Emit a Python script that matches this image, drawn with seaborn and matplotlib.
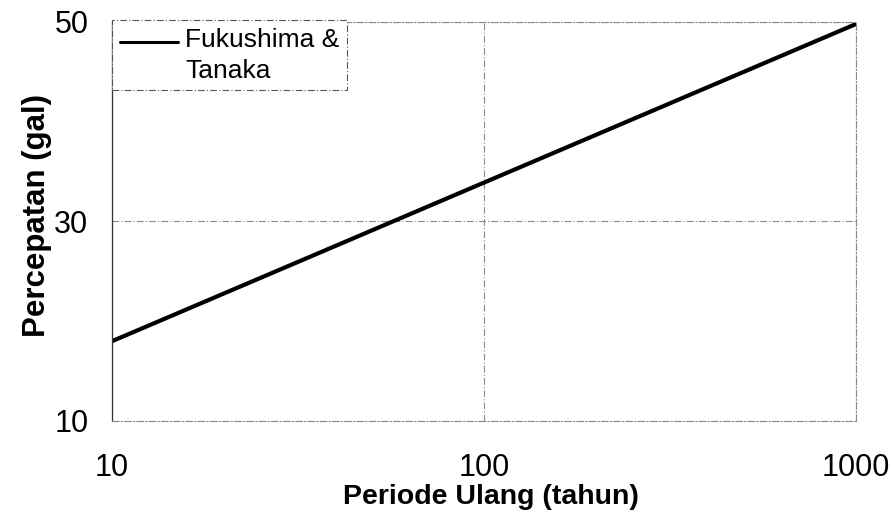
import matplotlib
matplotlib.use("Agg")
import matplotlib.pyplot as plt
from matplotlib.legend_handler import HandlerLine2D
from matplotlib.lines import Line2D
import numpy as np
import seaborn as sns
import pandas as pd

# Return period (years) and peak ground acceleration (gal)
periode = [10, 100, 1000]
percepatan = [18.0, 33.9, 49.8]
series_name = "Fukushima &\nTanaka"

x_ticks = [10, 100, 1000]
y_ticks = [10, 30, 50]

sns.set_theme(style="white")
plt.rcParams["font.family"] = ["Liberation Sans", "DejaVu Sans"]
plt.rcParams["text.color"] = "black"
plt.rcParams["axes.labelcolor"] = "black"

GRID_DASH = (0, (6, 2, 1, 2))


class FirstLineHandler(HandlerLine2D):
    """Legend line drawn level with the first line of a two-line label."""

    def __init__(self, lift=10.0, inset=5.0, **kw):
        super().__init__(**kw)
        self.lift = lift
        self.inset = inset

    def create_artists(self, legend, orig_handle, xdescent, ydescent,
                       width, height, fontsize, trans):
        artists = super().create_artists(legend, orig_handle, xdescent, ydescent,
                                         width, height, fontsize, trans)
        for art in artists:
            x = np.asarray(art.get_xdata(), dtype=float)
            y = np.asarray(art.get_ydata(), dtype=float)
            if len(x) == 2:
                x = x.copy()
                x[0] += self.inset
            art.set_data(x, y + self.lift)
        return artists


df = pd.DataFrame({"Periode": periode, "Percepatan": percepatan,
                   "Model": [series_name] * len(periode)})

fig = plt.figure(figsize=(8.91, 5.19), dpi=100)
ax = fig.add_axes([112 / 891, 1 - 421 / 519, (856 - 112) / 891, (421 - 22) / 519])

sns.lineplot(data=df, x="Periode", y="Percepatan", hue="Model",
             palette=["black"], linewidth=3.0, ax=ax)

ax.set_xscale("log")
ax.set_xlim(10, 1000)
ax.set_ylim(10, 50)
ax.set_xticks(x_ticks)
ax.set_xticklabels([str(v) for v in x_ticks])
ax.set_yticks(y_ticks)
ax.set_yticklabels([str(v) for v in y_ticks])
ax.minorticks_off()
ax.tick_params(axis="both", labelsize=22, length=0, colors="black")
ax.tick_params(axis="x", pad=23)
ax.tick_params(axis="y", pad=17)

ax.grid(True, which="major", color="#8a8a8a", linestyle=GRID_DASH, linewidth=0.8)

for side in ["top", "right", "bottom"]:
    ax.spines[side].set_color("#8a8a8a")
    ax.spines[side].set_linestyle(GRID_DASH)
    ax.spines[side].set_linewidth(0.8)
ax.spines["left"].set_color("#333333")
ax.spines["left"].set_linewidth(0.9)

ax.set_xlabel("Periode Ulang (tahun)", fontsize=20.5, fontweight="bold", color="black")
ax.set_ylabel("Percepatan (gal)", fontsize=22.5, fontweight="bold", color="black")
ax.xaxis.set_label_coords(0.509, -0.158)
ax.yaxis.set_label_coords(-0.080, 0.515)

handles, labels = ax.get_legend_handles_labels()
leg = ax.legend(handles, labels, loc="upper left", bbox_to_anchor=(0.0, 1.005),
                fontsize=19, frameon=True, fancybox=False,
                handlelength=2.2, handletextpad=0.27,
                borderpad=0.3, borderaxespad=0.0,
                handler_map={Line2D: FirstLineHandler()})
for t in leg.get_texts():
    t.set_linespacing(1.35)
    t.set_color("black")
leg.get_frame().set_edgecolor("#555555")
leg.get_frame().set_linewidth(0.8)
leg.get_frame().set_linestyle(GRID_DASH)
leg.get_frame().set_alpha(1)
for ln in leg.get_lines():
    ln.set_linewidth(2.2)

fig.savefig("out.png", dpi=100)
